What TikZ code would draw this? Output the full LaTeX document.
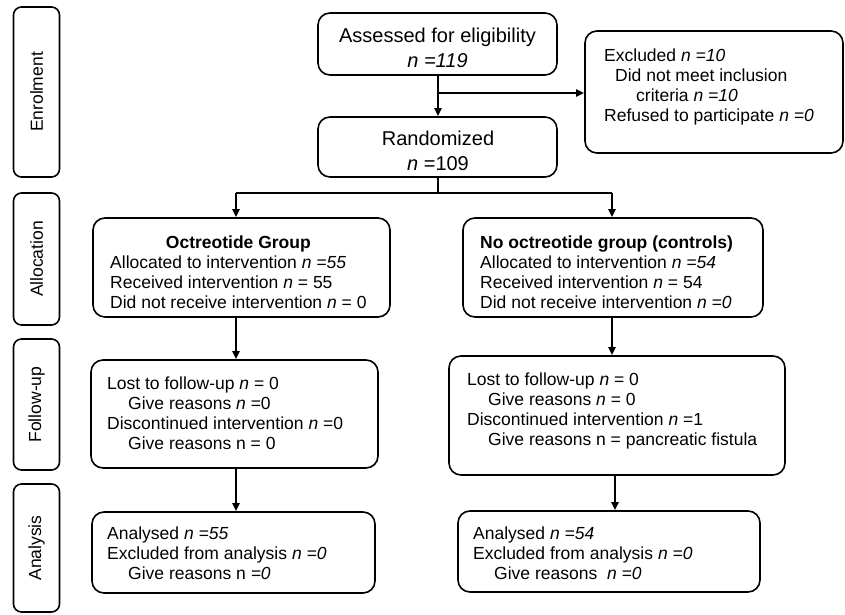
\documentclass[tikz,border=0pt]{standalone}
\usepackage{fontspec}
\setmainfont{Liberation Sans}
\usetikzlibrary{arrows.meta}
\tikzset{
  phase/.style={draw, line width=1.6pt, rounded corners=8pt, inner sep=0pt, font=\fontsize{17.5}{20}\selectfont},
  box/.style={draw, line width=1.6pt, rounded corners=12pt, inner sep=0pt},
  txt/.style={anchor=north west, inner sep=0pt, align=left, font=\fontsize{17.5}{20}\selectfont},
  bigtxt/.style={anchor=north, inner sep=0pt, align=center, font=\fontsize{20}{25}\selectfont},
  conn/.style={line width=2pt, -{Triangle[length=8pt,width=7pt]}},
  wire/.style={line width=2pt}
}
\newcommand{\ind}{\hspace*{21pt}}
\begin{document}
\begin{tikzpicture}[x=1pt,y=-1pt]
\useasboundingbox (0,0) rectangle (845,615);
% phase labels
\node[phase, rotate=90, minimum width=170pt, minimum height=46pt] (enrol) at (36.5,92) {Enrolment};
\node[phase, rotate=90, minimum width=132pt, minimum height=46pt] (alloc) at (36.5,259) {Allocation};
\node[phase, rotate=90, minimum width=131pt, minimum height=46pt] (follow) at (36.5,404.5) {Follow-up};
\node[phase, rotate=90, minimum width=128pt, minimum height=46pt] (anal) at (36.5,548) {Analysis};
% boxes
\node[box, minimum width=239pt, minimum height=62pt] (assess) at (437.5,44) {};
\node[box, minimum width=239pt, minimum height=60pt] (rand) at (437.5,147) {};
\node[box, minimum width=258pt, minimum height=122pt] (excl) at (714,92) {};
\node[box, minimum width=297pt, minimum height=99pt] (oct) at (241.5,267.5) {};
\node[box, minimum width=300pt, minimum height=99pt] (ctrl) at (613,267.5) {};
\node[box, minimum width=287pt, minimum height=108pt] (fuL) at (234.5,414) {};
\node[box, minimum width=336pt, minimum height=119pt] (fuR) at (617,415.5) {};
\node[box, minimum width=283pt, minimum height=81pt] (anL) at (233.5,552.5) {};
\node[box, minimum width=302pt, minimum height=81pt] (anR) at (609,551.5) {};
% texts
\node[bigtxt] (tA) at (437.5,27.5) {Assessed for eligibility\\\textit{n =119}};
\node[bigtxt] (tR) at (438,130.5) {Randomized\\\textit{n} =109};
\node[txt] (tE) at (604,49) {Excluded \textit{n =10}\\\hspace*{11pt}Did not meet inclusion\\\hspace*{32pt}criteria \textit{n =10}\\Refused to participate \textit{n =0}};
\node[txt] (tO) at (110,234) {\begin{tabular}{@{}l@{}}\multicolumn{1}{@{}c@{}}{\textbf{Octreotide Group}}\\Allocated to intervention \textit{n =55}\\Received intervention \textit{n} = 55\\Did not receive intervention \textit{n} = 0\end{tabular}};
\node[txt] (tC) at (480,234) {\begin{tabular}{@{}l@{}}\multicolumn{1}{@{}c@{}}{\textbf{No octreotide group (controls)}}\\Allocated to intervention \textit{n =54}\\Received intervention \textit{n} = 54\\Did not receive intervention \textit{n =0}\end{tabular}};
\node[txt] (tFL) at (107,377) {Lost to follow-up \textit{n} = 0\\\ind Give reasons \textit{n} =0\\Discontinued intervention \textit{n} =0\\\ind Give reasons n = 0};
\node[txt] (tFR) at (467,373) {Lost to follow-up \textit{n} = 0\\\ind Give reasons \textit{n} = 0\\Discontinued intervention \textit{n} =1\\\ind Give reasons n = pancreatic fistula};
\node[txt] (tAL) at (107,527) {Analysed \textit{n =55}\\Excluded from analysis \textit{n =0}\\\ind Give reasons n \textit{=0}};
\node[txt] (tAR) at (473,527) {Analysed \textit{n =54}\\Excluded from analysis \textit{n =0}\\\ind Give reasons \ \textit{n =0}};
% connectors
\coordinate (br) at (438,93);
\coordinate (sM) at (438,193);
\coordinate (sL) at (236,193);
\coordinate (sR) at (612,193);
\draw[conn] (assess.south -| br) -- (rand.north -| br);
\draw[conn] (br) -- (br -| excl.west);
\draw[wire] (rand.south -| sM) -- (sM);
\draw[wire] (sL) -- (sR);
\draw[conn] (sL) -- (sL |- oct.north);
\draw[conn] (sR) -- (sR |- ctrl.north);
\draw[conn] (oct.south -| sL) -- (fuL.north -| sL);
\draw[conn] (ctrl.south -| sR) -- (fuR.north -| sR);
\draw[conn] (fuL.south -| sL) -- (anL.north -| sL);
\coordinate (sR2) at (615,0);
\draw[conn] (fuR.south -| sR2) -- (anR.north -| sR2);
\end{tikzpicture}
\end{document}
